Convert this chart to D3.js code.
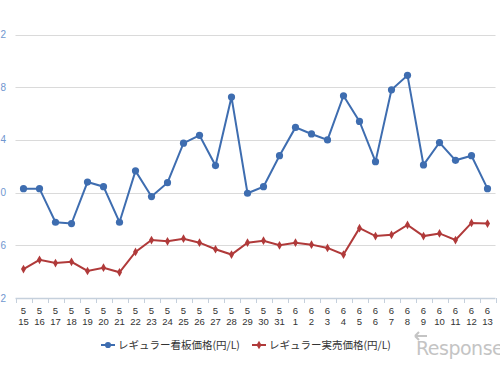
<!DOCTYPE html>
<html>
<head>
<meta charset="utf-8">
<script src="https://cdn.jsdelivr.net/npm/d3@7"></script>
<style>
	body { margin: 0; background: #fff; }
	svg { display: block; font-family: "Noto Sans CJK JP", "DejaVu Sans", sans-serif; }
</style>
</head>
<body>
<svg id="chart" width="500" height="367"></svg>
<script>
let months = [5,5,5,5,5,5,5,5,5,5,5,5,5,5,5,5,5,6,6,6,6,6,6,6,6,6,6,6,6,6];
let days = [15,16,17,18,19,20,21,22,23,24,25,26,27,28,29,30,31,1,2,3,4,5,6,7,8,9,10,11,12,13];
let kanban = [150.3,150.3,147.75,147.65,150.8,150.45,147.75,151.65,149.7,150.75,153.75,154.35,152.05,157.25,149.95,
	150.45,152.8,154.95,154.45,154.0,157.35,155.4,152.35,157.8,158.9,152.1,153.8,152.45,152.8,150.3];
let jitsubai = [144.2,144.9,144.65,144.75,144.05,144.3,143.95,145.5,146.4,146.3,146.5,146.2,145.7,145.3,146.2,
	146.35,146.0,146.2,146.05,145.8,145.3,147.3,146.7,146.8,147.55,146.7,146.9,146.4,147.7,147.65];
let yTicks = [142,146,150,154,158,162];
let seriesNames = ["レギュラー看板価格(円/L)", "レギュラー実売価格(円/L)"];
let colors = ["#3e6db0", "#b03a3a"];

let svg = d3.select("#chart");
let cats = days.map((d, i) => months[i] + "/" + d);

let x = d3.scaleBand().domain(cats).range([15.5, 495.5]);
let y = d3.scaleLinear().domain([142, 162]).range([298, 34.5]);

// gridlines
svg.append("g").selectAll("line").data(yTicks.slice(1)).enter().append("line")
	.attr("x1", 15.5).attr("x2", 495.5)
	.attr("y1", d => Math.round(y(d)) + 0.5).attr("y2", d => Math.round(y(d)) + 0.5)
	.attr("stroke", "#dadada").attr("stroke-width", 1.2);

// y labels: the page crops them so only the last digit shows
svg.append("g").selectAll("text").data(yTicks).enter().append("text")
	.attr("x", 6).attr("y", d => y(d) + 3.5)
	.attr("text-anchor", "end")
	.attr("font-family", "Liberation Sans, Arial, sans-serif")
	.attr("font-size", 10).attr("fill", "#6f96cf")
	.text(d => String(d).slice(-1));

// x axis
let xa = svg.append("g");
xa.append("line").attr("x1", 15.5).attr("x2", 495.5).attr("y1", 298.5).attr("y2", 298.5)
	.attr("stroke", "#c5d0dc").attr("stroke-width", 1.5);
xa.selectAll("line.tick").data(cats.concat(["end"])).enter().append("line")
	.attr("class", "tick")
	.attr("x1", (d, i) => Math.round(15.5 + i * x.step()) + 0.5)
	.attr("x2", (d, i) => Math.round(15.5 + i * x.step()) + 0.5)
	.attr("y1", 298).attr("y2", 303)
	.attr("stroke", "#c5d0dc");
let lab = xa.selectAll("g.lab").data(cats).enter().append("g")
	.attr("transform", d => "translate(" + (x(d) + x.bandwidth() / 2) + ",0)");
lab.append("text").attr("y", 314).attr("text-anchor", "middle")
	.attr("font-family", "Liberation Sans, Arial, sans-serif").attr("font-size", 9.5).attr("fill", "#333")
	.text((d, i) => months[i]);
lab.append("text").attr("y", 325).attr("text-anchor", "middle")
	.attr("font-family", "Liberation Sans, Arial, sans-serif").attr("font-size", 9.5).attr("fill", "#333")
	.text((d, i) => days[i]);

let cx = (d, i) => x(cats[i]) + x.bandwidth() / 2;
let line = d3.line().x(cx).y(d => y(d));

// red series
svg.append("path").datum(jitsubai).attr("d", line)
	.attr("fill", "none").attr("stroke", colors[1]).attr("stroke-width", 2);
svg.append("g").selectAll("path").data(jitsubai).enter().append("path")
	.attr("d", d3.symbol().type(d3.symbolDiamond).size(22))
	.attr("transform", (d, i) => "translate(" + cx(d, i) + "," + y(d) + ")")
	.attr("fill", colors[1]);

// blue series
svg.append("path").datum(kanban).attr("d", line)
	.attr("fill", "none").attr("stroke", colors[0]).attr("stroke-width", 2);
svg.append("g").selectAll("circle").data(kanban).enter().append("circle")
	.attr("cx", cx).attr("cy", d => y(d)).attr("r", 3.6)
	.attr("fill", colors[0]);

// legend
let legX = [101, 252];
let leg = svg.append("g").selectAll("g").data(seriesNames).enter().append("g")
	.attr("transform", (d, i) => "translate(" + legX[i] + ",345)");
leg.append("line").attr("x1", 0).attr("x2", 14).attr("y1", 0).attr("y2", 0)
	.attr("stroke", (d, i) => colors[i]).attr("stroke-width", 2);
leg.append("path")
	.attr("d", (d, i) => i == 0 ? d3.symbol().type(d3.symbolCircle).size(30)() : d3.symbol().type(d3.symbolDiamond).size(22)())
	.attr("transform", "translate(7,0)")
	.attr("fill", (d, i) => colors[i]);
leg.append("text").attr("x", 17).attr("y", 4)
	.attr("font-size", 10.5).attr("fill", "#333")
	.text(d => d);

// watermark
let wm = svg.append("g").attr("transform", "translate(413,355)").attr("opacity", 0.5);
wm.append("text").attr("x", 3).attr("y", 0)
	.attr("font-family", "DejaVu Sans, sans-serif").attr("font-size", 19).attr("fill", "#8a8a8a")
	.attr("letter-spacing", -0.5)
	.text("Response");
wm.append("path").attr("d", "M2,-19 L14,-19 M2,-19 L6,-23 M2,-19 L6,-15")
	.attr("stroke", "#8a8a8a").attr("stroke-width", 2).attr("fill", "none");
</script>
</body>
</html>
